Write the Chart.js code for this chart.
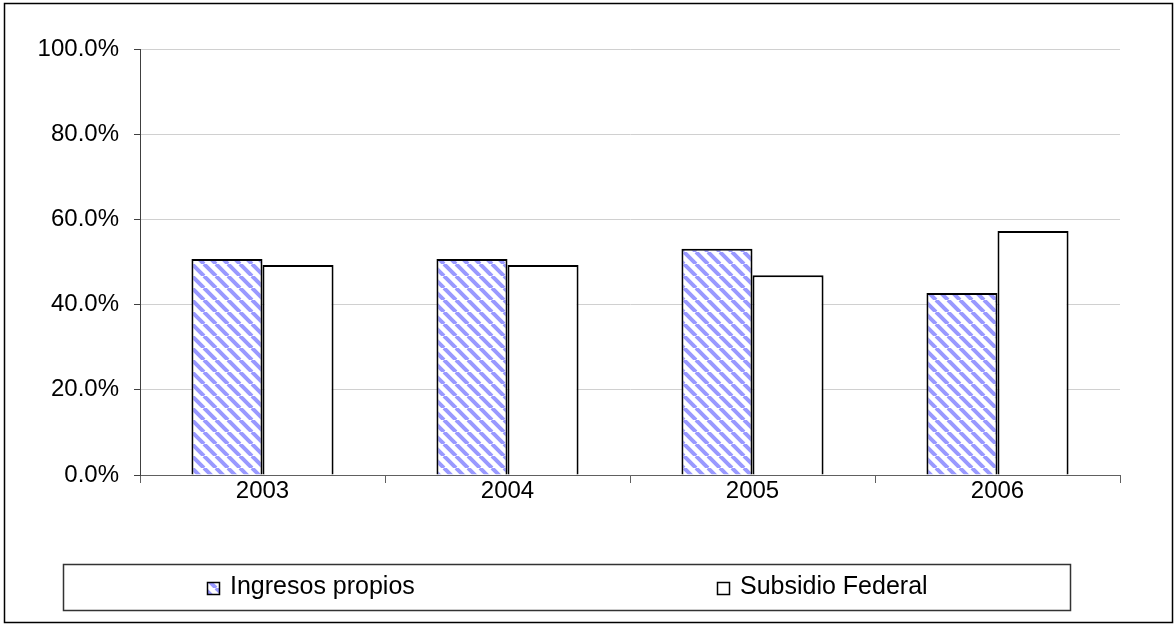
<!DOCTYPE html>
<html>
<head>
<meta charset="utf-8">
<script src="https://cdn.jsdelivr.net/npm/chart.js@4.4.1/dist/chart.umd.min.js"></script>
<style>
    html, body { margin: 0; padding: 0; background: #fff; }
    #wrap { width: 1175px; height: 627px; }
</style>
</head>
<body>
<div id="wrap"><canvas id="chart" width="1175" height="627"></canvas></div>
<script>
    const years = ['2003', '2004', '2005', '2006'];
    const ingresosPropios = [50.7, 50.7, 53.1, 42.7];
    const subsidioFederal = [49.3, 49.3, 46.9, 57.3];
    const yTicks = [0, 20, 40, 60, 80, 100];
    const seriesNames = ['Ingresos propios', 'Subsidio Federal'];

    const FONT = 'Arial, "Liberation Sans", sans-serif';

    function makeHatch() {
        const size = 12;
        const c = document.createElement('canvas');
        c.width = size;
        c.height = size;
        const g = c.getContext('2d');
        g.fillStyle = '#ffffff';
        g.fillRect(0, 0, size, size);
        g.strokeStyle = '#9999ff';
        g.lineWidth = 4;
        g.beginPath();
        for (let k = -1; k <= 1; k++) {
            g.moveTo(k * size, 0);
            g.lineTo(k * size + size, size);
        }
        g.stroke();
        return g.createPattern(c, 'repeat');
    }

    const hatch = makeHatch();

    const frame = {
        id: 'frame',
        beforeDraw(chart) {
            const ctx = chart.ctx;
            ctx.save();
            ctx.fillStyle = '#fff';
            ctx.fillRect(0, 0, chart.width, chart.height);
            ctx.strokeStyle = '#000';
            ctx.lineWidth = 1.5;
            ctx.strokeRect(4.5, 3.5, 1168, 619);
            ctx.restore();
        },
        afterDraw(chart) {
            const ctx = chart.ctx;
            ctx.save();
            // legend box
            ctx.strokeStyle = '#333';
            ctx.lineWidth = 1.5;
            ctx.strokeRect(63.5, 564.5, 1007, 46);
            const items = [
                { x: 207, label: seriesNames[0], fill: hatch },
                { x: 717, label: seriesNames[1], fill: '#ffffff' },
            ];
            ctx.font = '25px ' + FONT;
            ctx.textBaseline = 'middle';
            items.forEach((it) => {
                ctx.fillStyle = it.fill;
                ctx.fillRect(it.x, 582, 13, 13);
                ctx.strokeStyle = '#000';
                ctx.lineWidth = 1.5;
                ctx.strokeRect(it.x + 0.5, 582.5, 12, 12);
                ctx.fillStyle = '#000';
                ctx.fillText(it.label, it.x + 23, 587);
            });
            ctx.restore();
        }
    };

    new Chart(document.getElementById('chart'), {
        type: 'bar',
        data: {
            labels: years,
            datasets: [
                {
                    label: seriesNames[0],
                    data: ingresosPropios,
                    backgroundColor: hatch,
                    borderColor: '#000',
                    borderWidth: 2,
                },
                {
                    label: seriesNames[1],
                    data: subsidioFederal,
                    backgroundColor: '#ffffff',
                    borderColor: '#000',
                    borderWidth: 2,
                },
            ],
        },
        options: {
            responsive: false,
            animation: false,
            layout: {
                padding: { left: 0, right: 55, top: 49, bottom: 112 },
            },
            plugins: {
                legend: { display: false },
                tooltip: { enabled: false },
            },
            datasets: {
                bar: { categoryPercentage: 0.58, barPercentage: 1.0 },
            },
            scales: {
                x: {
                    grid: {
                        display: true,
                        drawOnChartArea: false,
                        offset: true,
                        tickLength: 8,
                        color: '#606060',
                    },
                    border: { color: '#606060', width: 1 },
                    ticks: {
                        color: '#000',
                        font: { family: FONT, size: 24 },
                        padding: -6,
                    },
                    afterFit(scale) { scale.height = 40; },
                },
                y: {
                    min: 0,
                    max: 100,
                    afterBuildTicks(scale) {
                        scale.ticks = yTicks.map((v) => ({ value: v }));
                    },
                    grid: {
                        color: (c) => (c.tick && c.tick.value === 0 ? '#606060' : '#d0d0d0'),
                        tickColor: '#404040',
                        tickLength: 6,
                    },
                    border: { color: '#404040', width: 1 },
                    ticks: {
                        color: '#000',
                        font: { family: FONT, size: 24 },
                        padding: 15,
                        callback: (v) => v.toFixed(1) + '%',
                    },
                    afterFit(scale) { scale.width = 140; },
                },
            },
        },
        plugins: [frame],
    });
</script>
</body>
</html>
